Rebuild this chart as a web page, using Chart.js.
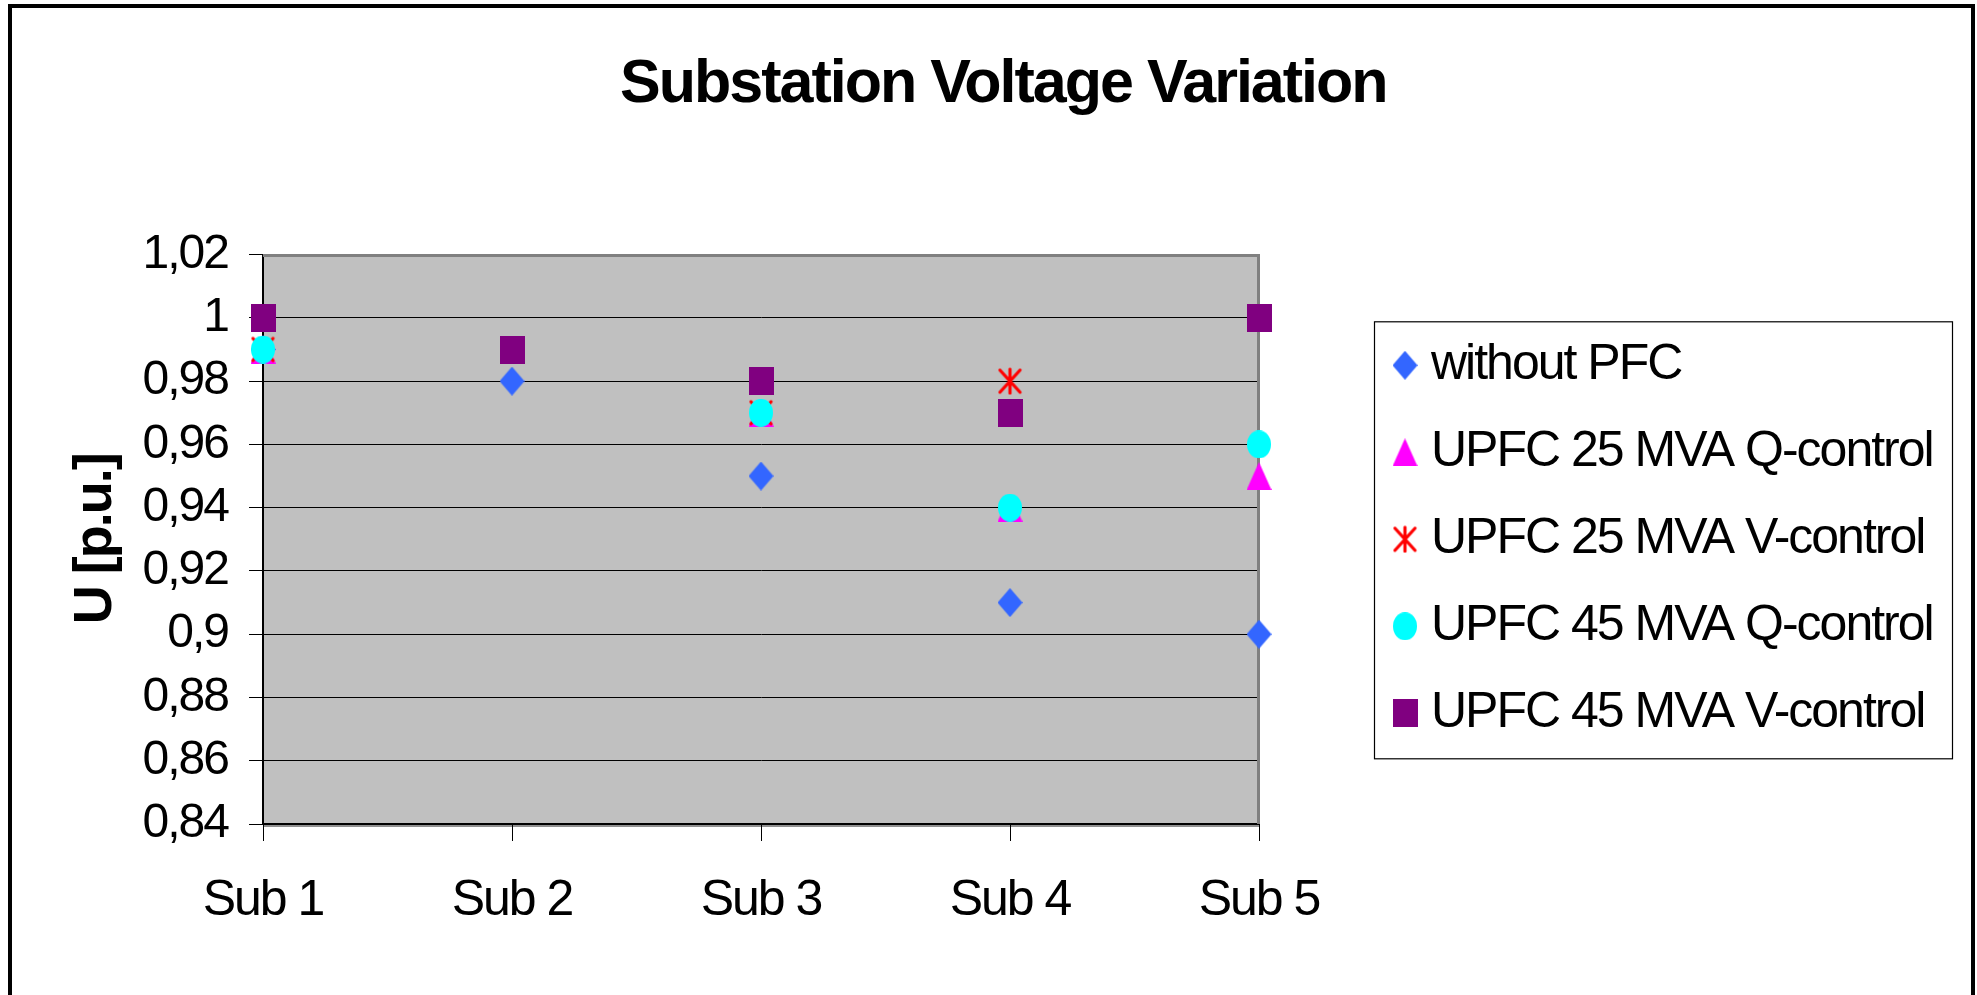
<!DOCTYPE html>
<html>
<head>
<meta charset="utf-8">
<script src="https://cdn.jsdelivr.net/npm/chart.js@4.4.1/dist/chart.umd.min.js"></script>
<style>
  html, body { margin: 0; padding: 0; background: #fff; overflow: hidden; }
  #frame { position: absolute; left: 8px; top: 4px; width: 1967px; height: 1200px; border: 4px solid #000; box-sizing: border-box; }
  #wrap { position: absolute; left: 0; top: 0; width: 1977px; height: 995px; }
</style>
</head>
<body>
<div id="frame"></div>
<div id="wrap"><canvas id="c" width="1977" height="995"></canvas></div>
<script>
// ---- data ----
const categories = ['Sub 1', 'Sub 2', 'Sub 3', 'Sub 4', 'Sub 5'];
const seriesNames = ['without PFC', 'UPFC 25 MVA Q-control', 'UPFC 25 MVA V-control', 'UPFC 45 MVA Q-control', 'UPFC 45 MVA V-control'];
const withoutPFC   = [0.99, 0.98, 0.95, 0.91, 0.90];
const upfc25Q      = [0.99, 0.99, 0.97, 0.94, 0.95];
const upfc25V      = [0.99, 0.99, 0.97, 0.98, 1.00];
const upfc45Q      = [0.99, 0.99, 0.97, 0.94, 0.96];
const upfc45V      = [1.00, 0.99, 0.98, 0.97, 1.00];
const yTickValues  = [0.84, 0.86, 0.88, 0.90, 0.92, 0.94, 0.96, 0.98, 1.00, 1.02];
const yTickLabels  = ['0,84', '0,86', '0,88', '0,9', '0,92', '0,94', '0,96', '0,98', '1', '1,02'];
const chartTitle = 'Substation Voltage Variation';
const yTitle = 'U [p.u.]';

// ---- marker images ----
function marker(w, h, fn) {
  const c = document.createElement('canvas');
  c.width = w; c.height = h;
  fn(c.getContext('2d'), w, h);
  return c;
}
const mDiamond = marker(25, 29, (g, w, h) => {
  g.fillStyle = '#3366FF';
  g.beginPath(); g.moveTo(w / 2, 0); g.lineTo(w, h / 2); g.lineTo(w / 2, h); g.lineTo(0, h / 2); g.closePath(); g.fill();
});
const mTriangle = marker(25, 28, (g, w, h) => {
  g.fillStyle = '#FF00FF';
  g.beginPath(); g.moveTo(w / 2, 0); g.lineTo(w, h); g.lineTo(0, h); g.closePath(); g.fill();
});
const mAsterisk = marker(25, 28, (g, w, h) => {
  g.strokeStyle = '#FF0000'; g.lineWidth = 3.2; g.lineCap = 'round';
  g.beginPath();
  g.moveTo(w / 2, 2); g.lineTo(w / 2, h - 2);
  g.moveTo(2.5, 3); g.lineTo(w - 2.5, h - 3);
  g.moveTo(w - 2.5, 3); g.lineTo(2.5, h - 3);
  g.stroke();
});
const mEllipse = marker(24, 28, (g, w, h) => {
  g.fillStyle = '#00FFFF';
  g.beginPath(); g.ellipse(w / 2, h / 2, w / 2, h / 2, 0, 0, Math.PI * 2); g.fill();
});
const mSquare = marker(25, 28, (g, w, h) => {
  g.fillStyle = '#800080';
  g.fillRect(0, 0, w, h);
});

const FONT = '"Liberation Sans", Arial, sans-serif';
const SPACING = '-2px';
const LEG_FONT = 50, LEG_PAD = 37, LEG_BOX = 2;
const LEG_LEFT = 1367;   // desired legend start (px)

// measure the widest legend label the same way Chart.js will
const mctx = document.createElement('canvas').getContext('2d');
mctx.letterSpacing = SPACING;
mctx.font = LEG_FONT + 'px ' + FONT;
const maxLabelW = Math.max(...seriesNames.map(s => mctx.measureText(s).width));
const legendW = LEG_PAD + LEG_BOX + LEG_FONT / 2 + maxLabelW + 10;
const padRight = Math.max(0, 1977 - LEG_LEFT - legendW);

function ds(i, data, style, color, order) {
  return {
    label: seriesNames[i], data, pointStyle: style, pointRadius: 13, pointHoverRadius: 13,
    showLine: false, borderColor: color, backgroundColor: color, order, clip: false
  };
}

const plotFrame = {
  id: 'plotFrame',
  beforeLayout(chart) { chart.ctx.letterSpacing = SPACING; },
  beforeDraw(chart) {
    const { ctx, chartArea: a } = chart;
    ctx.letterSpacing = SPACING;
    ctx.save();
    ctx.fillStyle = '#C0C0C0';
    ctx.fillRect(a.left, a.top, a.right - a.left, a.bottom - a.top);
    ctx.strokeStyle = '#909090';
    ctx.lineWidth = 4;
    ctx.beginPath();
    ctx.moveTo(a.left, a.bottom + 1); ctx.lineTo(a.right, a.bottom + 1);
    ctx.stroke();
    ctx.restore();
  },
  beforeDatasetsDraw(chart) {
    const { ctx, chartArea: a } = chart;
    ctx.save();
    ctx.strokeStyle = '#808080';
    ctx.lineWidth = 3;
    ctx.beginPath();
    ctx.moveTo(a.left, a.top + 1); ctx.lineTo(a.right - 0.5, a.top + 1); ctx.lineTo(a.right - 0.5, a.bottom);
    ctx.stroke();
    ctx.restore();
  },
  afterDraw(chart) {
    const lg = chart.legend;
    if (!lg || !lg.legendHitBoxes || !lg.legendHitBoxes.length) return;
    const hb = lg.legendHitBoxes;
    const top = hb[0].top - 19;
    const bottom = hb[hb.length - 1].top + hb[hb.length - 1].height + 20;
    const ctx = chart.ctx;
    ctx.save();
    ctx.strokeStyle = '#000';
    ctx.lineWidth = 1.2;
    ctx.strokeRect(lg.left + 7.5, top + 0.5, 578, bottom - top);
    ctx.restore();
  }
};

new Chart(document.getElementById('c'), {
  type: 'line',
  data: {
    labels: categories,
    datasets: [
      ds(0, withoutPFC, mDiamond, '#3366FF', 5),
      ds(1, upfc25Q, mTriangle, '#FF00FF', 4),
      ds(2, upfc25V, mAsterisk, '#FF0000', 3),
      ds(3, upfc45Q, mEllipse, '#00FFFF', 2),
      ds(4, upfc45V, mSquare, '#800080', 1)
    ]
  },
  options: {
    responsive: false,
    animation: false,
    devicePixelRatio: 1,
    layout: { padding: { left: 64, right: padRight, top: 0, bottom: 51 } },
    plugins: {
      title: {
        display: true, text: chartTitle, color: '#000',
        font: { family: FONT, size: 61, weight: 'bold', lineHeight: 1.2 },
        padding: { top: 48.5, bottom: 132.9 }
      },
      legend: {
        display: true, position: 'right', fullSize: false, align: 'center',
        maxWidth: Math.ceil(legendW) + 4,
        labels: {
          usePointStyle: true, pointStyleWidth: LEG_BOX, padding: LEG_PAD, color: '#000',
          font: { family: FONT, size: LEG_FONT },
          sort: (a, b) => a.datasetIndex - b.datasetIndex
        }
      },
      tooltip: { enabled: false }
    },
    scales: {
      x: {
        type: 'category', offset: false,
        grid: { display: true, drawOnChartArea: false, drawTicks: true, tickLength: 17, color: '#000', offset: false },
        border: { display: true, color: '#000', width: 2 },
        ticks: { color: '#000', font: { family: FONT, size: 50, lineHeight: 1.2 }, padding: 30, maxRotation: 0, autoSkip: false },
        afterFit(s) { s.height = 120; }
      },
      y: {
        type: 'linear', position: 'left', min: 0.84, max: 1.02,
        afterBuildTicks(s) { s.ticks = yTickValues.map(v => ({ value: v })); },
        grid: { display: true, color: '#000', lineWidth: 1, tickLength: 14, drawTicks: true },
        border: { display: true, color: '#000', width: 2 },
        ticks: { color: '#000', font: { family: FONT, size: 48, lineHeight: 1.2 }, padding: 21,
                 callback: (v, i) => yTickLabels[i] },
        title: { display: true, text: yTitle, color: '#000', font: { family: FONT, size: 54, weight: 'bold', lineHeight: 1.2 }, padding: { top: 0, bottom: 0 } },
        afterFit(s) { s.width = 199; }
      },
      y2: {
        type: 'linear', position: 'right', display: true,
        grid: { display: false }, border: { display: false }, ticks: { display: false },
        afterFit(s) { s.width = LEG_LEFT - 1259; }
      }
    }
  },
  plugins: [plotFrame]
});
</script>
</body>
</html>
